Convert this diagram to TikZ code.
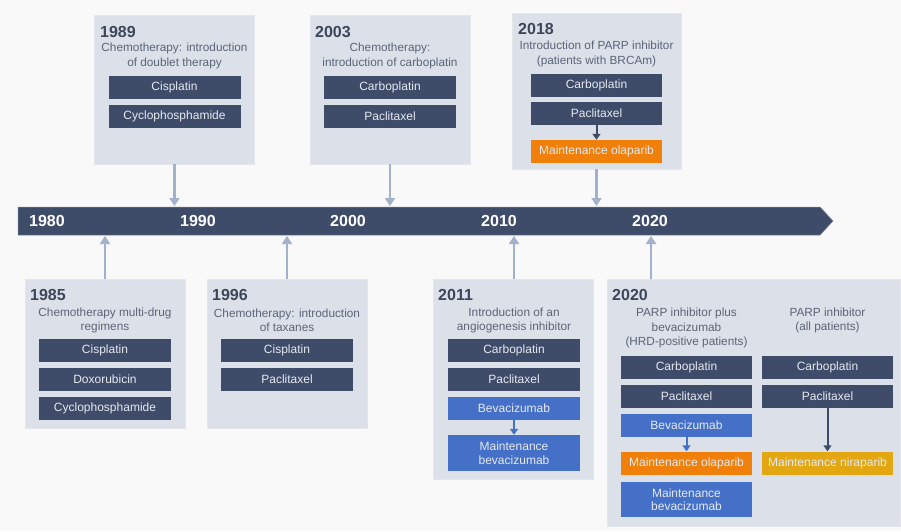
\documentclass[tikz,border=0pt]{standalone}
\usepackage{fontspec}
\setmainfont{Liberation Sans}
\usetikzlibrary{arrows.meta}
\definecolor{bgc}{HTML}{F9F9FA}
\definecolor{panelc}{HTML}{DCE0E8}
\definecolor{darkc}{HTML}{3E4C69}
\definecolor{bluec}{HTML}{4570C8}
\definecolor{orangec}{HTML}{F0800A}
\definecolor{goldc}{HTML}{E3A712}
\definecolor{connc}{HTML}{A3B2CC}
\definecolor{subc}{HTML}{5B6579}
\definecolor{yearc}{HTML}{3D475B}
\definecolor{drugtxt}{HTML}{E6E9F0}
\tikzset{
  panel/.style={fill=panelc, draw=panelc!80!white, line width=0.6pt, minimum width=160pt, minimum height=149pt, inner sep=0pt},
  drug/.style={fill=darkc, text=drugtxt, minimum width=132pt, minimum height=23pt, inner sep=0pt, font=\fontsize{12}{13.5}\selectfont, align=center},
  bdrug/.style={drug, fill=bluec},
  odrug/.style={drug, fill=orangec},
  gdrug/.style={drug, fill=goldc},
  yr/.style={anchor=west, inner sep=0pt, text=yearc, font=\fontsize{16}{18}\selectfont\bfseries},
  tyr/.style={anchor=center, inner sep=0pt, text=white, font=\fontsize{16}{18}\selectfont\bfseries},
  sub/.style={inner sep=0pt, text=subc, align=center, font=\fontsize{11.8}{14.3}\selectfont},
  conn/.style={draw=connc, line width=2.2pt, -{Triangle[width=10pt,length=8pt]}},
  inarr/.style={draw=darkc, line width=2pt, -{Triangle[width=8pt,length=6pt]}},
  binarr/.style={inarr, draw=bluec, fill=bluec},
}
\begin{document}
\begin{tikzpicture}[x=1pt,y=-1pt]
\useasboundingbox[fill=bgc] (0,0) rectangle (901,531);
% timeline
\fill[darkc, draw=darkc!70!white, line width=0.5pt] (18,207) -- (820,207) -- (833,221) -- (820,235) -- (18,235) -- cycle;
\node[tyr] (y1980) at (47,221) {1980};
\node[tyr] (y1990) at (198,221) {1990};
\node[tyr] (y2000) at (348,221) {2000};
\node[tyr] (y2010) at (499,221) {2010};
\node[tyr] (y2020) at (650,221) {2020};
\coordinate (t1985) at (105,236);
\coordinate (t1989) at (174.5,206);
\coordinate (t1996) at (287,236);
\coordinate (t2003) at (390,206);
\coordinate (t2011) at (514,236);
\coordinate (t2018) at (596.5,206);
\coordinate (t2020) at (651,236);

% ---------- 1989 ----------
\node[panel] (p1989) at (174.5,89.5) {};
\node[yr] (h1989) at (100,32) {1989};
\node[sub] (s1989) at (174.5,56) {Chemotherapy: introduction\\of doublet therapy};
\node[drug] (a1989) at (174.5,87.5) {Cisplatin};
\node[drug] (b1989) at (174.5,116.5) {Cyclophosphamide};
\draw[conn] (t1989 |- p1989.south) -- (t1989);

% ---------- 2003 ----------
\node[panel] (p2003) at (390,89.5) {};
\node[yr] (h2003) at (315,32) {2003};
\node[sub] (s2003) at (390,56) {Chemotherapy:\\introduction of carboplatin};
\node[drug] (a2003) at (390,87.5) {Carboplatin};
\node[drug] (b2003) at (390,116.5) {Paclitaxel};
\draw[conn] (t2003 |- p2003.south) -- (t2003);

% ---------- 2018 ----------
\node[panel, minimum width=169pt, minimum height=156pt] (p2018) at (596.5,91) {};
\node[yr] (h2018) at (518,29) {2018};
\node[sub] (s2018) at (596.5,54) {Introduction of PARP inhibitor\\(patients with BRCAm)};
\node[drug, minimum width=131pt] (a2018) at (596.5,85.5) {Carboplatin};
\node[drug, minimum width=131pt] (b2018) at (596.5,113.5) {Paclitaxel};
\node[odrug, minimum width=131pt] (c2018) at (596.5,151.5) {Maintenance olaparib};
\draw[inarr] (b2018.south) -- (c2018.north);
\draw[conn] (t2018 |- p2018.south) -- (t2018);

% ---------- 1985 ----------
\node[panel] (p1985) at (105,353.5) {};
\node[yr] (h1985) at (30,295) {1985};
\node[sub] (s1985) at (105,320.5) {Chemotherapy multi-drug\\regimens};
\node[drug] (a1985) at (105,350.5) {Cisplatin};
\node[drug] (b1985) at (105,379.5) {Doxorubicin};
\node[drug] (c1985) at (105,408.5) {Cyclophosphamide};
\draw[conn] (t1985 |- p1985.north) -- (t1985);

% ---------- 1996 ----------
\node[panel] (p1996) at (287,353.5) {};
\node[yr] (h1996) at (212,295) {1996};
\node[sub] (s1996) at (287,320.5) {Chemotherapy: introduction\\of taxanes};
\node[drug] (a1996) at (287,350.5) {Cisplatin};
\node[drug] (b1996) at (287,379.5) {Paclitaxel};
\draw[conn] (t1996 |- p1996.north) -- (t1996);

% ---------- 2011 ----------
\node[panel, minimum height=200pt] (p2011) at (513.5,379) {};
\node[yr] (h2011) at (438,295) {2011};
\node[sub] (s2011) at (514,320.5) {Introduction of an\\angiogenesis inhibitor};
\node[drug] (a2011) at (514,350.5) {Carboplatin};
\node[drug] (b2011) at (514,379.5) {Paclitaxel};
\node[bdrug] (c2011) at (514,408.5) {Bevacizumab};
\node[bdrug, minimum height=36pt] (d2011) at (514,453) {Maintenance\\bevacizumab};
\draw[binarr] (c2011.south) -- (d2011.north);
\draw[conn] (t2011 |- p2011.north) -- (t2011);

% ---------- 2020 ----------
\node[panel, minimum width=293pt, minimum height=247pt] (p2020) at (753.5,402.5) {};
\node[yr] (h2020) at (612,295) {2020};
\node[sub] (s2020a) at (686.5,328) {PARP inhibitor plus\\bevacizumab\\(HRD-positive patients)};
\node[sub] (s2020b) at (827.5,320.5) {PARP inhibitor\\(all patients)};
\node[drug, minimum width=131pt] (a2020) at (686.5,367.5) {Carboplatin};
\node[drug, minimum width=131pt] (b2020) at (686.5,396.5) {Paclitaxel};
\node[bdrug, minimum width=131pt] (c2020) at (686.5,425.5) {Bevacizumab};
\node[odrug, minimum width=131pt] (d2020) at (686.5,463) {Maintenance olaparib};
\node[bdrug, minimum width=131pt, minimum height=35pt] (e2020) at (686.5,499.5) {Maintenance\\bevacizumab};
\draw[binarr] (c2020.south) -- (d2020.north);
\node[drug, minimum width=131pt] (f2020) at (827.5,367.5) {Carboplatin};
\node[drug, minimum width=131pt] (g2020) at (827.5,396.5) {Paclitaxel};
\node[gdrug, minimum width=131pt] (h2020n) at (827.5,463) {Maintenance niraparib};
\draw[inarr] (g2020.south) -- (h2020n.north);
\draw[conn] (t2020 |- p2020.north) -- (t2020);
\end{tikzpicture}
\end{document}
